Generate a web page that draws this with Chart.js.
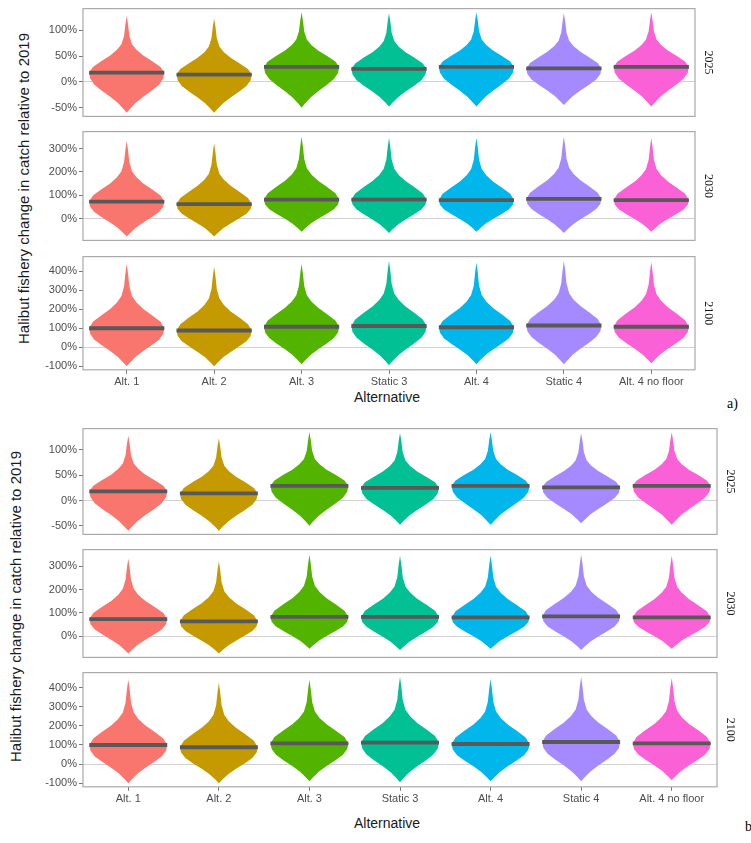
<!DOCTYPE html>
<html>
<head>
<meta charset="utf-8">
<script src="https://cdn.jsdelivr.net/npm/chart.js@4"></script>
<style>
  body { margin: 0; background: #fff; width: 751px; height: 843px; position: relative; overflow: hidden; font-family: "Liberation Sans", Arial, sans-serif; }
  .panel { position: absolute; }
  .ytitle { position: absolute; transform: rotate(-90deg); transform-origin: center; white-space: nowrap; font-size: 15px; color: #1a1a1a; }
  .xtitle { position: absolute; font-size: 14px; color: #1a1a1a; }
  .tag { position: absolute; font-family: "Liberation Serif", serif; font-size: 14px; }
</style>
</head>
<body>
<div class="ytitle" style="left:-172px; top:180px; width:390px; text-align:center;">Halibut fishery change in catch relative to 2019</div>
<div class="xtitle" style="left:354px; top:389px;">Alternative</div>
<div class="tag" style="left:727px; top:396px;">a)</div>
<div class="ytitle" style="left:-180px; top:598px; width:390px; text-align:center;">Halibut fishery change in catch relative to 2019</div>
<div class="xtitle" style="left:354px; top:815px;">Alternative</div>
<div class="tag" style="left:745px; top:819px;">b)</div>
<script>
const categories = ['Alt. 1', 'Alt. 2', 'Alt. 3', 'Static 3', 'Alt. 4', 'Static 4', 'Alt. 4 no floor'];
const colors = ['#F8766D', '#C49A00', '#53B400', '#00C094', '#00B6EB', '#A58AFF', '#FB61D7'];
const years = ['2025', '2030', '2100'];

// y tick values per facet
const ticks2025 = [-50, 0, 50, 100];
const ticks2030 = [0, 100, 200, 300];
const ticks2100 = [-100, 0, 100, 200, 300, 400];

// medians, lower and upper ends of each violin (percent change)
const median2025 = [18, 14, 29, 25, 29, 26, 29];
const min2025 = [-60, -60, -50, -48, -48, -45, -48];
const max2025 = [128, 123, 135, 133, 135, 133, 135];
const median2030 = [73, 63, 82, 82, 80, 85, 80];
const min2030 = [-75, -75, -55, -60, -55, -60, -55];
const max2030 = [333, 322, 350, 345, 345, 350, 345];
const median2100 = [100, 88, 108, 112, 105, 115, 108];
const min2100 = [-100, -100, -90, -95, -90, -90, -85];
const max2100 = [440, 425, 440, 455, 445, 455, 450];

// violin outline: relative width going down from median, and going up from median
const lowerPos = [0, 0.15, 0.3, 0.45, 0.6, 0.75, 0.9, 1];
const lowerWidth = [1, 0.97, 0.86, 0.66, 0.44, 0.24, 0.09, 0];
const upperPos = [0, 0.1, 0.2, 0.3, 0.4, 0.5, 0.65, 0.85, 1];
const upperWidth = [1, 0.9, 0.68, 0.44, 0.26, 0.14, 0.07, 0.035, 0];

const yearData = {
  '2025': { med: median2025, lo: min2025, hi: max2025, min: -67, max: 142, ticks: ticks2025 },
  '2030': { med: median2030, lo: min2030, hi: max2030, min: -92, max: 372, ticks: ticks2030 },
  '2100': { med: median2100, lo: min2100, hi: max2100, min: -119, max: 478, ticks: ticks2100 }
};

const figures = [
  { right: 695, panels: [[7, 122], [130, 246], [255, 370]] },
  { right: 717, panels: [[427, 540], [548, 663], [671, 787]] }
];

const violinPlugin = {
  id: 'violins',
  beforeDatasetsDraw(chart) {
    const d = chart.options.plugins.violins;
    const x = chart.scales.x, y = chart.scales.y, c = chart.ctx;
    const half = 0.43 * (x.getPixelForValue(1) - x.getPixelForValue(0));
    c.save();
    categories.forEach((cat, i) => {
      const cx = x.getPixelForValue(i);
      const m = d.med[i], lo = d.lo[i], hi = d.hi[i];
      const right = [];
      for (let k = upperPos.length - 1; k >= 0; k--) {
        right.push([cx + half * upperWidth[k], y.getPixelForValue(m + upperPos[k] * (hi - m))]);
      }
      for (let k = 1; k < lowerPos.length; k++) {
        right.push([cx + half * lowerWidth[k], y.getPixelForValue(m - lowerPos[k] * (m - lo))]);
      }
      c.beginPath();
      right.forEach((p, j) => j ? c.lineTo(p[0], p[1]) : c.moveTo(p[0], p[1]));
      for (let j = right.length - 1; j >= 0; j--) c.lineTo(2 * cx - right[j][0], right[j][1]);
      c.closePath();
      c.fillStyle = colors[i];
      c.fill();
    });
    c.restore();
  },
  afterDraw(chart) {
    const a = chart.chartArea, c = chart.ctx;
    c.save();
    c.strokeStyle = '#aaaaaa';
    c.lineWidth = 1.2;
    c.strokeRect(a.left, a.top, a.right - a.left, a.bottom - a.top);
    c.translate(a.right + 13, (a.top + a.bottom) / 2);
    c.rotate(Math.PI / 2);
    c.fillStyle = '#1a1a1a';
    c.font = '12px "Liberation Serif", serif';
    c.textAlign = 'center';
    c.textBaseline = 'middle';
    c.fillText(chart.options.plugins.violins.year, 0, 0);
    c.restore();
  }
};

figures.forEach(fig => {
  fig.panels.forEach((p, pi) => {
    const year = years[pi];
    const d = yearData[year];
    const last = pi === 2;
    const w = fig.right - 25 + 45;
    const h = p[1] - p[0] + 8 + (last ? 20 : 2);
    const box = document.createElement('div');
    box.className = 'panel';
    box.style.left = '25px';
    box.style.top = (p[0] - 7) + 'px';
    box.style.width = w + 'px';
    box.style.height = h + 'px';
    const cv = document.createElement('canvas');
    box.appendChild(cv);
    document.body.appendChild(box);
    // median bar is ~4px thick: half thickness in value units
    const e = (d.max - d.min) * 2 / (p[1] - p[0]);
    new Chart(cv, {
      type: 'bar',
      data: {
        labels: categories,
        datasets: [{
          data: d.med.map(m => [m - e, m + e]),
          backgroundColor: '#595959',
          categoryPercentage: 1,
          barPercentage: 0.86
        }]
      },
      options: {
        responsive: true,
        maintainAspectRatio: false,
        animation: false,
        layout: { padding: { left: 0, top: 0, right: 45, bottom: last ? 0 : 1 } },
        plugins: {
          legend: { display: false },
          tooltip: { enabled: false },
          violins: { year: year, med: d.med, lo: d.lo, hi: d.hi }
        },
        scales: {
          x: {
            display: last,
            border: { display: false },
            grid: { offset: false, drawOnChartArea: false, drawTicks: true, tickLength: 4, tickColor: '#777' },
            ticks: { color: '#4d4d4d', font: { size: 11 }, padding: 2, maxRotation: 0, autoSkip: false }
          },
          y: {
            min: d.min, max: d.max,
            afterFit: s => { s.width = 58; },
            afterBuildTicks: s => { s.ticks = d.ticks.map(v => ({ value: v })); },
            border: { display: false },
            grid: {
              color: ctx => ctx.tick && ctx.tick.value === 0 ? '#d0d0d0' : 'transparent',
              tickColor: '#777', tickLength: 4
            },
            ticks: {
              color: '#4d4d4d', font: { size: 11 }, padding: 2,
              callback: v => v + '%'
            }
          }
        }
      },
      plugins: [violinPlugin]
    });
  });
});
</script>
</body>
</html>
